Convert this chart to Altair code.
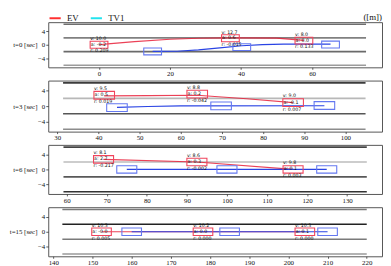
import altair as alt
import pandas as pd

# ---------------- data ----------------
panel_names = ["t=0 [sec]", "t=3 [sec]", "t=6 [sec]", "t=15 [sec]"]
x_domains = [[-14.3, 79.7], [27.8, 108.9], [55.4, 138.7], [138.7, 223.9]]
x_ticks = [
    [0, 20, 40, 60],
    [30, 40, 50, 60, 70, 80, 90, 100],
    [60, 70, 80, 90, 100, 110, 120, 130],
    [140, 150, 160, 170, 180, 190, 200, 210, 220],
]
y_domain = [-6.6, 6.6]
y_ticks = [-4, 0, 4]

lane_y = [6, 2, -2, -6]
lane_start = [-10.0, 31.4, 59.2, 142.3]
lane_end = [75.2, 104.9, 134.9, 220.0]
lane_colors = [
    ["#6e6e6e", "#808080", "#6a6a6a", "#9c9c9c"],
    ["#3c3c3c", "#b8b8b8", "#565656", "#8c8c8c"],
    ["#444444", "#bcbcbc", "#585858", "#333333"],
    ["#7a7a7a", "#222222", "#7a7a7a", "#9a9a9a"],
]

ev_box_x = [[0.0, 37.0, 57.7], [41.4, 64.0, 87.3], [69.2, 92.5, 116.5], [152.3, 178.2, 204.2]]
ev_box_y = [[0.0, 1.9, 1.2], [2.8, 3.1, 0.9], [2.7, 2.0, 0.0], [0.0, 0.0, 0.0]]
tv_box_x = [[15.1, 40.2, 65.2], [44.5, 69.8, 94.9], [75.0, 100.0, 124.9], [160.0, 185.0, 210.0]]
tv_box_y = [[-1.95, -0.7, 0.05], [-0.4, 0.05, 0.15], [0.0, 0.0, 0.0], [0.0, 0.0, 0.0]]

ev_line_x = [
    [0.0, 2.5, 10.0, 20.0, 28.0, 37.0, 50.0, 57.7],
    [41.4, 52.0, 64.0, 76.0, 87.3],
    [69.2, 92.5, 116.5],
    [152.3, 178.2, 204.2],
]
ev_line_y = [
    [0.0, 0.25, 0.9, 1.6, 1.9, 2.0, 1.95, 1.3],
    [2.65, 2.7, 2.8, 1.9, 0.9],
    [2.7, 2.0, 0.0],
    [0.0, 0.0, 0.0],
]
tv_line_x = [
    [15.1, 22.0, 28.0, 34.0, 40.2, 46.0, 52.0, 65.2],
    [44.5, 52.0, 60.0, 94.9],
    [75.0, 124.9],
    [160.0, 210.0],
]
tv_line_y = [
    [-1.95, -1.9, -1.5, -0.9, -0.3, 0.05, 0.2, 0.2],
    [-0.35, -0.1, 0.05, 0.1],
    [0.0, 0.0],
    [0.0, 0.0],
]

ev_v = [["v: 10.0", "v: 12.7", "v: 8.0"], ["v: 9.5", "v: 8.8", "v: 9.0"],
        ["v: 8.1", "v: 8.6", "v: 9.8"], ["v: 10.3", "v: 10.2", "v: 10.3"]]
ev_a = [["a: -0.2", "a: 0.6", "a: 0.0"], ["a: 0.5", "a: 0.2", "a: -0.1"],
        ["a: 2.7", "a: 0.3", "a: 0.1"], ["a: -0.0", "a: 0.0", "a: 0.1"]]
ev_r = [["r: 0.209", "r: -0.015", "r: 0.133"], ["r: 0.019", "r: -0.042", "r: 0.007"],
        ["r: -0.217", "r: -0.002", "r: 0.003"], ["r: 0.005", "r: 0.000", "r: 0.000"]]

series_names = ["EV", "TV1"]
legend_colors = ["#ff3030", "#22e3ee"]
unit_label = "([m])"

# ---------------- styling ----------------
W = 340
heights = [46, 52, 50, 50]
BOX_L, BOX_W = 5.0, 2.0
EV_BOX = "#f0445c"
TV_BOX = "#6478f0"
EV_LINE = "#e8203a"
TV_LINE = "#2a44e4"
FONT = "Liberation Serif"


def make_panel(i):
    h = heights[i]
    xs = alt.Scale(domain=x_domains[i], nice=False, zero=False)
    ys = alt.Scale(domain=y_domain, nice=False, zero=False)
    xax = alt.Axis(values=x_ticks[i], title=None, labelFlush=False,
                   labelOverlap=False, format="d")
    yax = alt.Axis(values=y_ticks, title=panel_names[i], titleX=-11.5, titleY=h / 2,
                   labelExpr="replace(datum.label, '-', '\u2212')")

    def X(f):
        return alt.X(f, type="quantitative", scale=xs, axis=xax)

    def Y(f):
        return alt.Y(f, type="quantitative", scale=ys, axis=yax)

    lanes = pd.DataFrame({"x": [lane_start[i]] * 4, "x2": [lane_end[i]] * 4,
                          "y": lane_y, "c": lane_colors[i]})
    lane_layer = alt.Chart(lanes).mark_rule(strokeWidth=1.6).encode(
        x=X("x"), x2="x2", y=Y("y"), stroke=alt.Stroke("c:N", scale=None))

    evl = pd.DataFrame({"x": ev_line_x[i], "y": ev_line_y[i]})
    tvl = pd.DataFrame({"x": tv_line_x[i], "y": tv_line_y[i]})
    ev_line = alt.Chart(evl).mark_line(color=EV_LINE, strokeWidth=1.2, opacity=0.85).encode(
        x=X("x"), y=Y("y"))
    tv_line = alt.Chart(tvl).mark_line(color=TV_LINE, strokeWidth=1.2).encode(
        x=X("x"), y=Y("y"))

    evb = pd.DataFrame({"cx": ev_box_x[i], "cy": ev_box_y[i],
                        "v": ev_v[i], "a": ev_a[i], "r": ev_r[i]})
    evb["x1"] = evb["cx"] - BOX_L / 2
    evb["x2"] = evb["cx"] + BOX_L / 2
    evb["y1"] = evb["cy"] - BOX_W / 2
    evb["y2"] = evb["cy"] + BOX_W / 2
    tvb = pd.DataFrame({"cx": tv_box_x[i], "cy": tv_box_y[i]})
    tvb["x1"] = tvb["cx"] - BOX_L / 2
    tvb["x2"] = tvb["cx"] + BOX_L / 2
    tvb["y1"] = tvb["cy"] - BOX_W / 2
    tvb["y2"] = tvb["cy"] + BOX_W / 2

    ev_boxes = alt.Chart(evb).mark_rect(fillOpacity=0, stroke=EV_BOX, strokeWidth=1.1).encode(
        x=X("x1"), x2="x2", y=Y("y1"), y2="y2")
    tv_boxes = alt.Chart(tvb).mark_rect(fillOpacity=0, stroke=TV_BOX, strokeWidth=1.1).encode(
        x=X("x1"), x2="x2", y=Y("y1"), y2="y2")

    tkw = dict(align="left", fontSize=4.8, font="DejaVu Sans", color="#111")
    t_v = alt.Chart(evb).mark_text(baseline="bottom", dy=-0.3, **tkw).encode(
        x=X("x1"), y=Y("y2"), text="v:N")
    t_a = alt.Chart(evb).mark_text(baseline="middle", dx=0.6, **tkw).encode(
        x=X("x1"), y=Y("cy"), text="a:N")
    t_r = alt.Chart(evb).mark_text(baseline="top", dy=0.3, **tkw).encode(
        x=X("x1"), y=Y("y1"), text="r:N")

    layers = [lane_layer, ev_line, tv_line, ev_boxes, tv_boxes, t_v, t_a, t_r]

    if i == 0:
        leg = pd.DataFrame({"s": series_names, "x": [ev_line_x[0][0]] * 2,
                            "y": [ev_line_y[0][0]] * 2})
        legend_layer = alt.Chart(leg).mark_line(strokeWidth=2).encode(
            x=X("x"), y=Y("y"),
            color=alt.Color("s:N", scale=alt.Scale(domain=series_names, range=legend_colors),
                            legend=alt.Legend(orient="none", legendX=0, legendY=-11,
                                              direction="horizontal", title=None,
                                              symbolType="stroke", symbolStrokeWidth=2,
                                              symbolSize=130, labelFont=FONT,
                                              labelFontSize=9, labelColor="#111",
                                              columnPadding=8, labelOffset=5)))
        unit = alt.Chart(pd.DataFrame({"t": [unit_label]})).mark_text(
            align="right", baseline="middle", fontSize=9, font=FONT, color="#111").encode(
            text="t:N", x=alt.value(W), y=alt.value(-5.5))
        layers = [lane_layer, legend_layer] + layers[1:] + [unit]

    return alt.layer(*layers).properties(width=W, height=h)


panels = [make_panel(i) for i in range(4)]

chart = (
    alt.vconcat(*panels, spacing=2.5)
    .resolve_scale(color="independent")
    .properties(padding={"left": 0, "top": 0, "right": 0, "bottom": 0})
    .configure_view(stroke="#555", strokeWidth=1)
    .configure_axis(domain=False, grid=False, tickSize=2, tickColor="#333", tickWidth=0.8,
                    labelFont=FONT, labelFontSize=7, labelColor="#111", labelPadding=1,
                    titleFont=FONT, titleFontSize=7, titleFontWeight="normal",
                    titleColor="#111")
    .configure_axisY(titleAngle=0, titleAlign="right", titleBaseline="middle", tickSize=2.5)
    .configure_axisX(labelPadding=0.5)
)

chart.save("out.html", embed_options={"renderer": "svg", "actions": False})
